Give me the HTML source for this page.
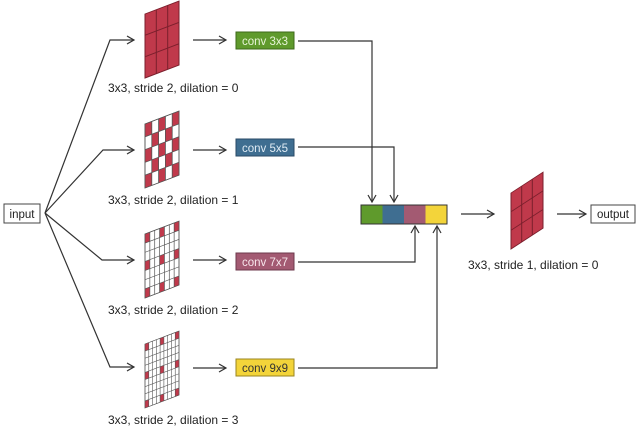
<!DOCTYPE html>
<html><head><meta charset="utf-8"><style>
body{margin:0;background:#fff;}
svg{display:block;font-family:"Liberation Sans",sans-serif;}
</style></head><body>
<svg width="640" height="431" viewBox="0 0 640 431" xmlns="http://www.w3.org/2000/svg">
<defs>
<marker id="a" markerWidth="10" markerHeight="10" refX="8" refY="5" orient="auto" markerUnits="userSpaceOnUse">
<path d="M1,1 L8,5 L1,9" fill="none" stroke="#333" stroke-width="1.2"/>
</marker>
</defs>
<g stroke="#333" stroke-width="1.2" fill="none">
<path d="M45,213 L110,40 L134,40" marker-end="url(#a)"/>
<path d="M45,213 L103,150 L134,150" marker-end="url(#a)"/>
<path d="M45,213 L102,260 L134,260" marker-end="url(#a)"/>
<path d="M45,213 L110,367 L134,367" marker-end="url(#a)"/>
<path d="M193,40 L226,40" marker-end="url(#a)"/>
<path d="M193,150 L226,150" marker-end="url(#a)"/>
<path d="M193,260 L226,260" marker-end="url(#a)"/>
<path d="M193,368 L226,368" marker-end="url(#a)"/>
<path d="M298,41 L372,41 L372,202" marker-end="url(#a)"/>
<path d="M298,147 L394,147 L394,202" marker-end="url(#a)"/>
<path d="M298,262 L415,262 L415,226" marker-end="url(#a)"/>
<path d="M298,368 L437,368 L437,226" marker-end="url(#a)"/>
<path d="M461,214 L494,214" marker-end="url(#a)"/>
<path d="M557,214 L586,214" marker-end="url(#a)"/>
</g>
<rect x="4" y="204" width="36" height="19" fill="#fff" stroke="#444" stroke-width="1"/>
<text x="22" y="218" font-size="11.5" text-anchor="middle" fill="#222">input</text>
<rect x="591" y="205" width="44" height="18" fill="#fff" stroke="#444" stroke-width="1"/>
<text x="613" y="218" font-size="11.5" text-anchor="middle" fill="#222">output</text>
<rect x="236" y="32" width="58" height="17" fill="#5f9a2c" stroke="#3d6a1a"/>
<text x="265" y="45" font-size="11.5" text-anchor="middle" fill="#e8f5d8">conv 3x3</text>
<rect x="236" y="139" width="58" height="17" fill="#3f6e91" stroke="#284a66"/>
<text x="265" y="152" font-size="11.5" text-anchor="middle" fill="#e0ecf5">conv 5x5</text>
<rect x="236" y="253" width="58" height="17" fill="#a35a72" stroke="#6e3a4c"/>
<text x="265" y="266" font-size="11.5" text-anchor="middle" fill="#f7e6ec">conv 7x7</text>
<rect x="236" y="359" width="58" height="17" fill="#f3d43a" stroke="#9a8420"/>
<text x="265" y="372" font-size="11.5" text-anchor="middle" fill="#333">conv 9x9</text>
<rect x="361" y="205" width="21.5" height="19" fill="#5f9a2c"/>
<rect x="382.5" y="205" width="21.5" height="19" fill="#3f6e91"/>
<rect x="404" y="205" width="21.5" height="19" fill="#a35a72"/>
<rect x="425.5" y="205" width="21.5" height="19" fill="#f3d43a"/>
<rect x="361" y="205" width="86" height="19" fill="none" stroke="#333" stroke-width="1"/>
<g transform="matrix(1,-0.38,0,1,145,14)" stroke="#7a1f2c" stroke-width="1">
<rect x="0" y="0" width="34" height="64" fill="#c0394b"/>
<line x1="11.3" y1="0" x2="11.3" y2="64"/><line x1="22.7" y1="0" x2="22.7" y2="64"/>
<line x1="0" y1="21.3" x2="34" y2="21.3"/><line x1="0" y1="42.7" x2="34" y2="42.7"/>
</g>
<g transform="matrix(1,-0.38,0,1,145,124)" stroke="#555" stroke-width="0.8">
<rect x="0" y="0" width="34" height="64" fill="#fff"/>
<g fill="#c0394b" stroke="none">
<rect x="0" y="0" width="6.8" height="12.8"/><rect x="13.6" y="0" width="6.8" height="12.8"/><rect x="27.2" y="0" width="6.8" height="12.8"/>
<rect x="6.8" y="12.8" width="6.8" height="12.8"/><rect x="20.4" y="12.8" width="6.8" height="12.8"/>
<rect x="0" y="25.6" width="6.8" height="12.8"/><rect x="13.6" y="25.6" width="6.8" height="12.8"/><rect x="27.2" y="25.6" width="6.8" height="12.8"/>
<rect x="6.8" y="38.4" width="6.8" height="12.8"/><rect x="20.4" y="38.4" width="6.8" height="12.8"/>
<rect x="0" y="51.2" width="6.8" height="12.8"/><rect x="13.6" y="51.2" width="6.8" height="12.8"/><rect x="27.2" y="51.2" width="6.8" height="12.8"/>
</g>
<path fill="none" d="M6.8,0V64M13.6,0V64M20.4,0V64M27.2,0V64M0,12.8H34M0,25.6H34M0,38.4H34M0,51.2H34"/>
<rect x="0" y="0" width="34" height="64" fill="none"/>
</g>
<g transform="matrix(1,-0.38,0,1,145,234)" stroke="#555" stroke-width="0.7">
<rect x="0" y="0" width="34" height="64" fill="#fff"/>
<g fill="#c0394b" stroke="none">
<rect x="0" y="0" width="4.86" height="9.14"/><rect x="14.57" y="0" width="4.86" height="9.14"/><rect x="29.14" y="0" width="4.86" height="9.14"/>
<rect x="0" y="27.43" width="4.86" height="9.14"/><rect x="14.57" y="27.43" width="4.86" height="9.14"/><rect x="29.14" y="27.43" width="4.86" height="9.14"/>
<rect x="0" y="54.86" width="4.86" height="9.14"/><rect x="14.57" y="54.86" width="4.86" height="9.14"/><rect x="29.14" y="54.86" width="4.86" height="9.14"/>
</g>
<path fill="none" d="M4.86,0V64M9.71,0V64M14.57,0V64M19.43,0V64M24.29,0V64M29.14,0V64M0,9.14H34M0,18.29H34M0,27.43H34M0,36.57H34M0,45.71H34M0,54.86H34"/>
<rect x="0" y="0" width="34" height="64" fill="none"/>
</g>
<g transform="matrix(1,-0.38,0,1,145,344)" stroke="#555" stroke-width="0.6">
<rect x="0" y="0" width="34" height="64" fill="#fff"/>
<g fill="#c0394b" stroke="none">
<rect x="0" y="0" width="3.78" height="7.11"/><rect x="15.11" y="0" width="3.78" height="7.11"/><rect x="30.22" y="0" width="3.78" height="7.11"/>
<rect x="0" y="28.44" width="3.78" height="7.11"/><rect x="15.11" y="28.44" width="3.78" height="7.11"/><rect x="30.22" y="28.44" width="3.78" height="7.11"/>
<rect x="0" y="56.89" width="3.78" height="7.11"/><rect x="15.11" y="56.89" width="3.78" height="7.11"/><rect x="30.22" y="56.89" width="3.78" height="7.11"/>
</g>
<path fill="none" d="M3.78,0V64M7.56,0V64M11.33,0V64M15.11,0V64M18.89,0V64M22.67,0V64M26.44,0V64M30.22,0V64M0,7.11H34M0,14.22H34M0,21.33H34M0,28.44H34M0,35.56H34M0,42.67H34M0,49.78H34M0,56.89H34"/>
<rect x="0" y="0" width="34" height="64" fill="none"/>
</g>
<g transform="matrix(1,-0.65,0,1,511,193)" stroke="#7a1f2c" stroke-width="1">
<rect x="0" y="0" width="32" height="56" fill="#c0394b"/>
<line x1="10.7" y1="0" x2="10.7" y2="56"/><line x1="21.3" y1="0" x2="21.3" y2="56"/>
<line x1="0" y1="18.7" x2="32" y2="18.7"/><line x1="0" y1="37.3" x2="32" y2="37.3"/>
</g>
<g font-size="12" fill="#222">
<text x="108" y="92">3x3, stride 2, dilation = 0</text>
<text x="108" y="204">3x3, stride 2, dilation = 1</text>
<text x="108" y="314">3x3, stride 2, dilation = 2</text>
<text x="108" y="424">3x3, stride 2, dilation = 3</text>
<text x="468" y="269">3x3, stride 1, dilation = 0</text>
</g>
</svg>
</body></html>
